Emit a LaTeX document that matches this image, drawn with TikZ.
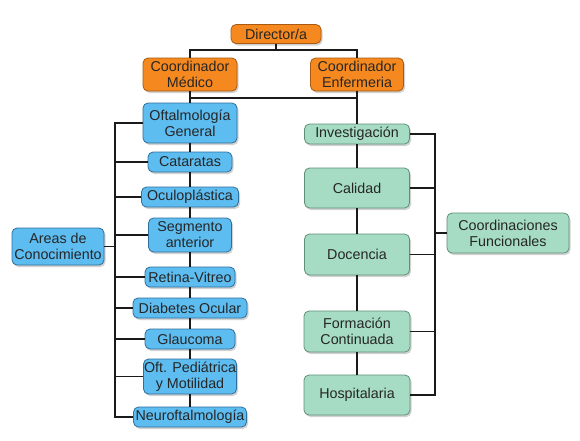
\documentclass[tikz,border=0pt]{standalone}
\usepackage{fontspec}
\setmainfont{Liberation Sans}
\usetikzlibrary{shadows}
\definecolor{orfill}{HTML}{F5891F}
\definecolor{ordraw}{HTML}{A85A10}
\definecolor{blfill}{HTML}{5DBCF0}
\definecolor{bldraw}{HTML}{2F6F9C}
\definecolor{grfill}{HTML}{A6DCC3}
\definecolor{grdraw}{HTML}{5F8F7A}
\definecolor{txt}{HTML}{262626}
\definecolor{wire}{HTML}{1A1A1A}
\tikzset{
  box/.style={rectangle, rounded corners=5pt, draw, line width=0.8pt, align=center,
    inner sep=0pt, text=txt, font=\fontsize{14.3}{16}\selectfont,
    drop shadow={opacity=0.35, shadow xshift=1.5pt, shadow yshift=-2pt}},
  obox/.style={box, fill=orfill, draw=ordraw},
  bbox/.style={box, fill=blfill, draw=bldraw},
  gbox/.style={box, fill=grfill, draw=grdraw},
  wirel/.style={draw=wire, line width=1.8pt},
}
\begin{document}
\begin{tikzpicture}[x=1pt,y=-1pt]
\useasboundingbox[fill=white] (0,0) rectangle (580,440);
\coordinate (top) at (276,50);
\coordinate (mid) at (190,98);
\coordinate (lb) at (115,0);
\coordinate (rb) at (435,0);

% nodes
\node[obox, minimum width=90pt, minimum height=19pt] (dir) at (276,34) {Director/a};
\node[obox, minimum width=94pt, minimum height=33pt] (cm) at (190,74.5) {Coordinador\\Médico};
\node[obox, minimum width=93pt, minimum height=33pt] (ce) at (357,74.5) {Coordinador\\Enfermeria};

\node[bbox, minimum width=94pt, minimum height=40pt] (og) at (190,123) {Oftalmología\\General};
\node[bbox, minimum width=84pt, minimum height=20pt] (cat) at (190,162) {Cataratas};
\node[bbox, minimum width=97pt, minimum height=20pt] (ocu) at (190,197) {Oculoplástica};
\node[bbox, minimum width=83pt, minimum height=34pt] (seg) at (190,235) {Segmento\\anterior};
\node[bbox, minimum width=90pt, minimum height=20pt] (ret) at (190,277) {Retina-Vitreo};
\node[bbox, minimum width=114pt, minimum height=20pt] (dia) at (190,308) {Diabetes Ocular};
\node[bbox, minimum width=90pt, minimum height=20pt] (gla) at (190,339) {Glaucoma};
\node[bbox, minimum width=93pt, minimum height=35pt] (ped) at (190,376.5) {Oft. Pediátrica\\y Motilidad};
\node[bbox, minimum width=113pt, minimum height=20pt] (neu) at (190,417) {Neuroftalmología};
\node[bbox, minimum width=92pt, minimum height=37pt] (areas) at (58,246.5) {Areas de\\Conocimiento};

\node[gbox, minimum width=105pt, minimum height=20pt] (inv) at (357,134) {Investigación};
\node[gbox, minimum width=105pt, minimum height=40pt] (cal) at (357,188) {Calidad};
\node[gbox, minimum width=105pt, minimum height=41pt] (doc) at (357,254.5) {Docencia};
\node[gbox, minimum width=106pt, minimum height=41pt] (for) at (357,331.5) {Formación\\Continuada};
\node[gbox, minimum width=106pt, minimum height=40pt] (hos) at (357,395) {Hospitalaria};
\node[gbox, minimum width=122pt, minimum height=40pt] (cf) at (508,233) {Coordinaciones\\Funcionales};

% connectors
\draw[wirel] (dir.south) -- (top);
\draw[wirel] (cm.north) |- (top) -| (ce.north);
\draw[wirel] (cm.south) -- (og.north);
\draw[wirel] (mid) -- (mid -| ce.south);
\draw[wirel] (og.south) -- (cat.north);
\draw[wirel] (cat.south) -- (ocu.north);
\draw[wirel] (ocu.south) -- (seg.north);
\draw[wirel] (seg.south) -- (ret.north);
\draw[wirel] (ret.south) -- (dia.north);
\draw[wirel] (dia.south) -- (gla.north);
\draw[wirel] (gla.south) -- (ped.north);
\draw[wirel] (ped.south) -- (neu.north);
\draw[wirel] (og.west) -- (og.west -| lb) -- (neu.west -| lb) -- (neu.west);
\foreach \n in {cat,ocu,seg,ret,dia,gla,ped} \draw[wirel] (\n.west) -- (\n.west -| lb);
\draw[wirel] (areas.east) -- (areas.east -| lb);

\draw[wirel] (ce.south) -- (inv.north);
\draw[wirel] (inv.south) -- (cal.north);
\draw[wirel] (cal.south) -- (doc.north);
\draw[wirel] (doc.south) -- (for.north);
\draw[wirel] (for.south) -- (hos.north);
\draw[wirel] (inv.east) -- (inv.east -| rb) -- (hos.east -| rb) -- (hos.east);
\foreach \n in {cal,doc,for} \draw[wirel] (\n.east) -- (\n.east -| rb);
\draw[wirel] (cf.west) -- (cf.west -| rb);
\end{tikzpicture}
\end{document}
